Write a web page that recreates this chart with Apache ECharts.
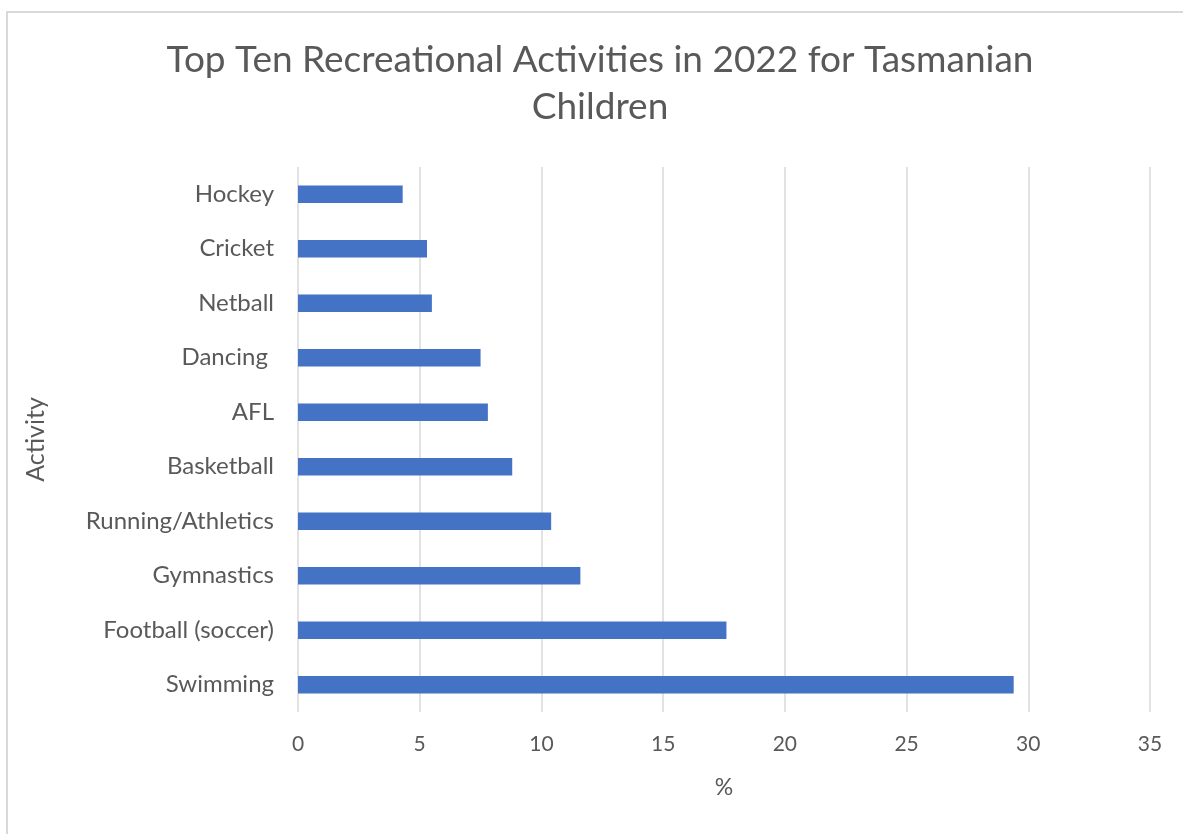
<!DOCTYPE html>
<html>
<head>
<meta charset="utf-8">
<script src="https://cdn.jsdelivr.net/npm/echarts@6/dist/echarts.min.js"></script>
<style>
html,body{margin:0;padding:0;background:#fff;overflow:hidden;width:1183px;height:834px;}
#frame{position:absolute;left:6px;top:11px;width:1300px;height:1000px;border-left:2px solid #d9d9d9;border-top:2px solid #d9d9d9;}
#chart{position:absolute;left:0;top:0;width:1200px;height:834px;}
</style>
</head>
<body>
<div id="frame"></div>
<div id="chart"></div>
<script>
const categories = ['Swimming','Football (soccer)','Gymnastics','Running/Athletics','Basketball','AFL','Dancing ','Netball','Cricket','Hockey'];
const values = [29.4, 17.6, 11.6, 10.4, 8.8, 7.8, 7.5, 5.5, 5.3, 4.3];
const titleText = 'Top Ten Recreational Activities in 2022 for Tasmanian\nChildren';
const xAxisName = '%';
const yAxisName = 'Activity';

const FONT = 'Lato';
const TXT = '#595959';
const chart = echarts.init(document.getElementById('chart'), null, {renderer:'canvas'});
chart.setOption({
  animation:false,
  backgroundColor:'transparent',
  title:{
    text:titleText, left:'center', top:32,
    textStyle:{fontFamily:FONT, fontSize:37, fontWeight:'normal', color:TXT, lineHeight:47}
  },
  grid:{left:298, right:50, top:167, bottom:122, containLabel:false},
  xAxis:{
    type:'value', min:0, max:35, interval:5,
    axisLine:{show:false}, axisTick:{show:false},
    splitLine:{show:true, lineStyle:{color:'#d9d9d9', width:1.5}},
    axisLabel:{fontFamily:FONT, fontSize:21, color:TXT, margin:22},
    name:xAxisName, nameLocation:'middle', nameGap:64,
    nameTextStyle:{fontFamily:FONT, fontSize:23, color:TXT}
  },
  yAxis:{
    type:'category', data:categories,
    axisLine:{show:false}, axisTick:{show:false}, splitLine:{show:false},
    axisLabel:{fontFamily:FONT, fontSize:24, color:TXT, margin:24},
    name:yAxisName, nameLocation:'middle', nameRotate:90, nameGap:250,
    nameTextStyle:{fontFamily:FONT, fontSize:25, color:TXT}
  },
  series:[{
    type:'bar', data:values, barCategoryGap:'68%',
    itemStyle:{color:'#4472C4'}
  }]
});
</script>
</body>
</html>
